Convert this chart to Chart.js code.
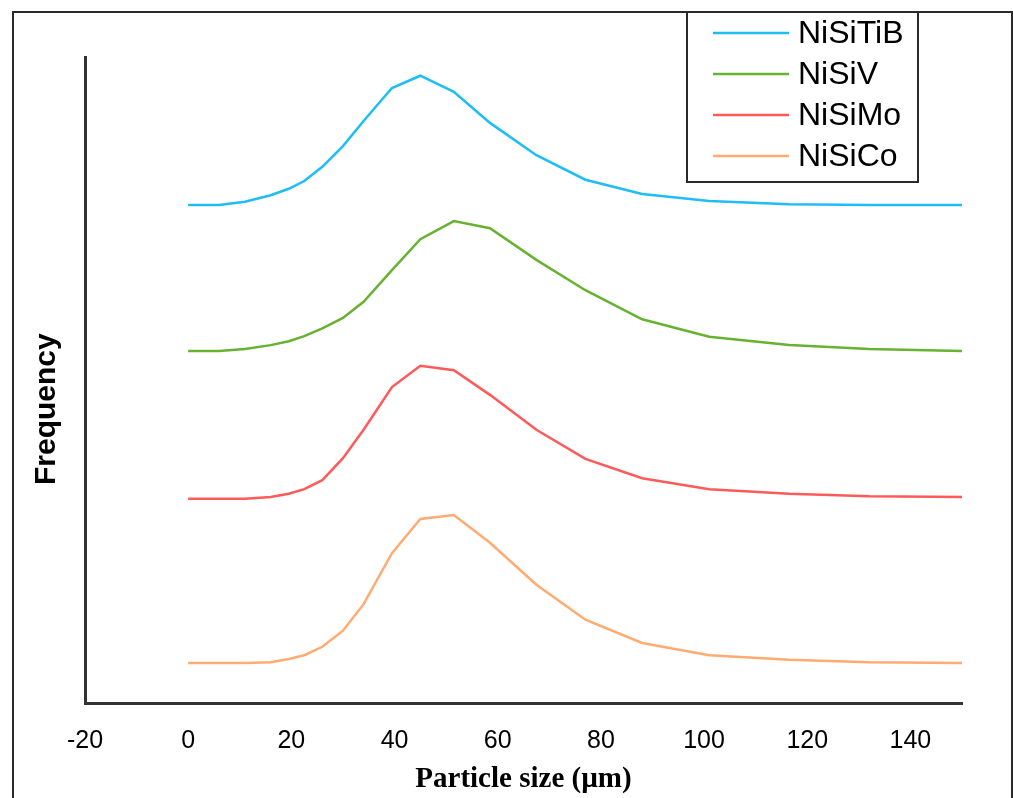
<!DOCTYPE html>
<html><head><meta charset="utf-8">
<script src="https://cdn.jsdelivr.net/npm/chart.js@4/dist/chart.umd.min.js"></script>
<style>html,body{margin:0;padding:0;background:#fff;overflow:hidden}</style>
</head><body>
<canvas id="c" width="1013" height="798"></canvas>
<script>
// Particle size (µm) sample points
const particleSize = [0, 6, 11, 16, 19.5, 22.5, 26, 30, 34, 39.5, 45, 51.5, 58.5, 67.5, 77, 88, 101, 116.5, 132, 150];
// Frequency curves (offset vertically as in the figure, arbitrary units)
const niSiTiB = [77.1, 77.1, 77.6, 78.6, 79.6, 80.8, 83.0, 86.2, 90.1, 95.2, 97.1, 94.6, 89.8, 84.8, 81.0, 78.8, 77.7, 77.2, 77.1, 77.1];
const niSiV   = [54.5, 54.5, 54.8, 55.4, 56.0, 56.8, 58.0, 59.6, 62.1, 67.0, 71.8, 74.6, 73.5, 68.6, 63.9, 59.4, 56.7, 55.4, 54.8, 54.5];
const niSiMo  = [31.6, 31.6, 31.6, 31.9, 32.4, 33.1, 34.5, 37.9, 42.3, 48.9, 52.2, 51.5, 47.7, 42.3, 37.8, 34.8, 33.1, 32.4, 32.0, 31.9];
const niSiCo  = [6.2, 6.2, 6.2, 6.3, 6.8, 7.4, 8.7, 11.2, 15.3, 23.2, 28.5, 29.1, 24.8, 18.3, 12.9, 9.3, 7.4, 6.7, 6.3, 6.2];
const xTicks = [-20, 0, 20, 40, 60, 80, 100, 120, 140];
const seriesNames = ['NiSiTiB', 'NiSiV', 'NiSiMo', 'NiSiCo'];
const seriesValues = [niSiTiB, niSiV, niSiMo, niSiCo];
const seriesColors = ['#1fbdf6', '#67b231', '#ff5a5a', '#ffab72'];

const datasets = seriesNames.map((name, i) => ({
  label: name,
  data: particleSize.map((x, j) => ({x: x, y: seriesValues[i][j]})),
  borderColor: seriesColors[i],
  backgroundColor: seriesColors[i],
  borderWidth: 2.5,
  pointRadius: 0,
  tension: 0,
  fill: false
}));

const framePlugin = {
  id: 'frame',
  afterDraw(chart) {
    const ctx = chart.ctx;
    ctx.save();
    ctx.strokeStyle = '#2a2a2a';
    ctx.lineWidth = 2;
    ctx.strokeRect(13, 12, 999, 820);
    ctx.strokeRect(687, 12, 231, 170);
    chart.data.datasets.forEach((ds, i) => {
      const y = 33 + i * 41;
      ctx.strokeStyle = ds.borderColor;
      ctx.lineWidth = 2.5;
      ctx.beginPath(); ctx.moveTo(713, y); ctx.lineTo(789, y); ctx.stroke();
      ctx.fillStyle = '#000';
      ctx.font = '32px "Liberation Sans", Arial, sans-serif';
      ctx.textBaseline = 'middle';
      ctx.textAlign = 'left';
      ctx.fillText(ds.label, 798, y + 1);
    });
    ctx.restore();
  }
};

new Chart(document.getElementById('c'), {
  type: 'line',
  data: { datasets },
  plugins: [framePlugin],
  options: {
    responsive: false,
    animation: false,
    devicePixelRatio: 1,
    layout: { padding: { top: 57, right: 51, left: 0, bottom: 0 } },
    plugins: { legend: { display: false }, tooltip: { enabled: false } },
    scales: {
      x: {
        type: 'linear', min: -20, max: 150,
        afterBuildTicks(s) { s.ticks = xTicks.map(v => ({ value: v })); },
        afterFit(s) { s.height = 95; },
        grid: { display: false, drawTicks: false },
        border: { display: true, color: '#333', width: 3 },
        ticks: { padding: 23, color: '#000', maxRotation: 0, autoSkip: false,
                 font: { family: '"Liberation Sans", Arial, sans-serif', size: 25 } },
        title: { display: true, text: 'Particle size (µm)', color: '#000',
                 font: { family: '"Liberation Serif", "Times New Roman", serif', size: 29, weight: 'bold' },
                 padding: { top: 0, bottom: 1 } }
      },
      y: {
        min: 0, max: 100,
        afterFit(s) { s.width = 85; },
        ticks: { display: false },
        grid: { display: false, drawTicks: false },
        border: { display: true, color: '#333', width: 3 },
        title: { display: true, text: 'Frequency\u00a0\u00a0\u00a0\u00a0\u00a0\u00a0\u00a0', color: '#000',
                 font: { family: '"Liberation Sans", Arial, sans-serif', size: 30, weight: 'bold' },
                 padding: { top: 29, bottom: 0 } }
      }
    }
  }
});
</script>
</body></html>
